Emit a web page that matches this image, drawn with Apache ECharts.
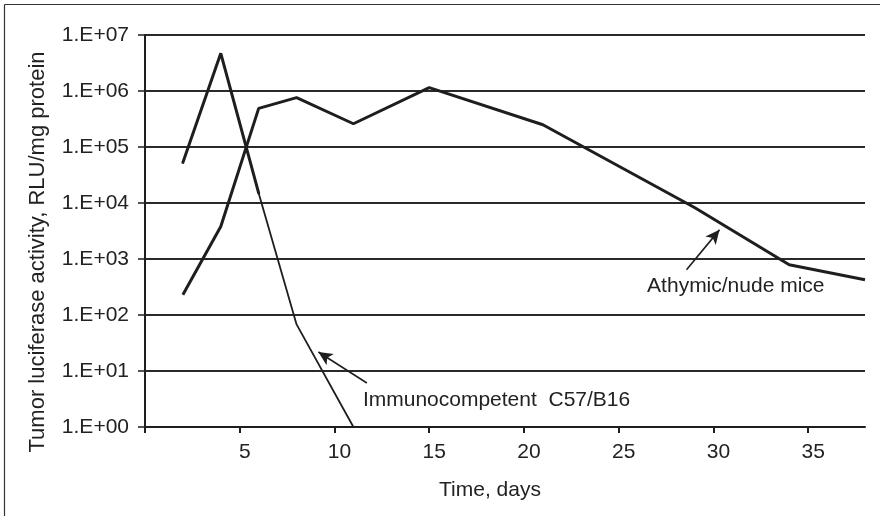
<!DOCTYPE html>
<html>
<head>
<meta charset="utf-8">
<script src="https://cdn.jsdelivr.net/npm/echarts@6/dist/echarts.min.js"></script>
<style>
html,body{margin:0;padding:0;background:#fff;}
#chart{width:880px;height:516px;}
</style>
</head>
<body>
<div id="chart"></div>
<script>
// ---- data ----
const athymicDays = [2, 4, 6, 8, 11, 15, 21, 29, 34, 38];
const athymicValues = [230, 3800, 490000, 760000, 260000, 1150000, 250000, 8300, 790, 425];
const immunoDays = [2, 4, 6, 8, 11];
const immunoValues = [53000, 4700000, 15000, 68, 1];
const xTickValues = [0, 5, 10, 15, 20, 25, 30, 35];
const xLabelValues = [5, 10, 15, 20, 25, 30, 35];
const yTickLabels = ['1.E+00', '1.E+01', '1.E+02', '1.E+03', '1.E+04', '1.E+05', '1.E+06', '1.E+07'];
const athymicLabel = 'Athymic/nude mice';
const immunoLabel = 'Immunocompetent  C57/B16';
const xTitle = 'Time, days';
const yTitle = 'Tumor luciferase activity, RLU/mg protein';

const zip = (xs, ys) => xs.map((x, i) => [x, ys[i]]);
const FONT = "'Liberation Sans', Arial, sans-serif";
const INK = '#1e1e1e';

const chart = echarts.init(document.getElementById('chart'), null, {renderer: 'canvas'});
const immunoPairs = zip(immunoDays, immunoValues);

chart.setOption({
  animation: false,
  backgroundColor: '#fff',
  grid: {left: 145, right: 15, top: 35, bottom: 89},
  xAxis: {
    type: 'value', min: 0, max: 38,
    axisLine: {show: true, lineStyle: {color: INK, width: 2}},
    axisTick: {show: true, inside: false, length: 6, customValues: xTickValues, lineStyle: {color: INK, width: 2}},
    axisLabel: {show: true, customValues: xLabelValues, margin: 15, padding: [0, 0, 0, 10],
      fontFamily: FONT, fontSize: 21, color: '#222'},
    splitLine: {show: false}
  },
  yAxis: {
    type: 'log', logBase: 10, min: 1, max: 10000000,
    axisLine: {show: true, lineStyle: {color: INK, width: 2}},
    axisTick: {show: true, inside: false, length: 7, lineStyle: {color: INK, width: 1.5}},
    axisLabel: {margin: 16, fontFamily: FONT, fontSize: 21, color: '#222',
      formatter: v => yTickLabels[Math.round(Math.log10(v))] || ''},
    splitLine: {show: true, lineStyle: {color: '#2a2a2a', width: 2}},
    minorTick: {show: false}
  },
  graphic: [
    {type: 'line', shape: {x1: 4.5, y1: 4.5, x2: 4.5, y2: 516}, style: {stroke: '#333', lineWidth: 1.2}},
    {type: 'line', shape: {x1: 4.5, y1: 4.5, x2: 880, y2: 4.5}, style: {stroke: '#333', lineWidth: 1.2}},
    {type: 'text', x: 490, y: 490, style: {text: xTitle, font: "21px " + FONT, fill: '#222', textAlign: 'center', textVerticalAlign: 'middle'}},
    {type: 'text', x: 38, y: 252, rotation: Math.PI / 2, style: {text: yTitle, font: "22px " + FONT, fill: '#222', textAlign: 'center', textVerticalAlign: 'middle'}}
  ],
  series: [
    {
      name: 'Athymic/nude mice', type: 'line', showSymbol: false, symbol: 'none',
      data: zip(athymicDays, athymicValues),
      lineStyle: {color: INK, width: 3}, z: 5,
      markLine: {
        silent: true, symbol: ['none', 'arrow'], symbolSize: [10, 14],
        lineStyle: {color: INK, width: 1.6, type: 'solid'}, label: {show: false},
        data: [
          [{coord: [28.58, 641]}, {coord: [30.32, 3313]}],
          [{coord: [11.71, 6.1]}, {coord: [9.15, 21.8]}]
        ]
      },
      markPoint: {
        silent: true, symbol: 'rect', symbolSize: 0,
        label: {show: true, position: 'right', distance: 0, fontFamily: FONT, fontSize: 21, color: '#222'},
        data: [
          {coord: [26.5, 323], label: {formatter: athymicLabel}},
          {coord: [11.5, 3.07], label: {formatter: immunoLabel}}
        ]
      }
    },
    {
      name: 'Immunocompetent (early)', type: 'line', showSymbol: false, symbol: 'none',
      data: immunoPairs.slice(0, 3),
      lineStyle: {color: INK, width: 3, cap: 'round'}, z: 4
    },
    {
      name: 'Immunocompetent (late)', type: 'line', showSymbol: false, symbol: 'none',
      data: immunoPairs.slice(2),
      lineStyle: {color: INK, width: 1.8}, z: 4
    }
  ]
});
</script>
</body>
</html>
